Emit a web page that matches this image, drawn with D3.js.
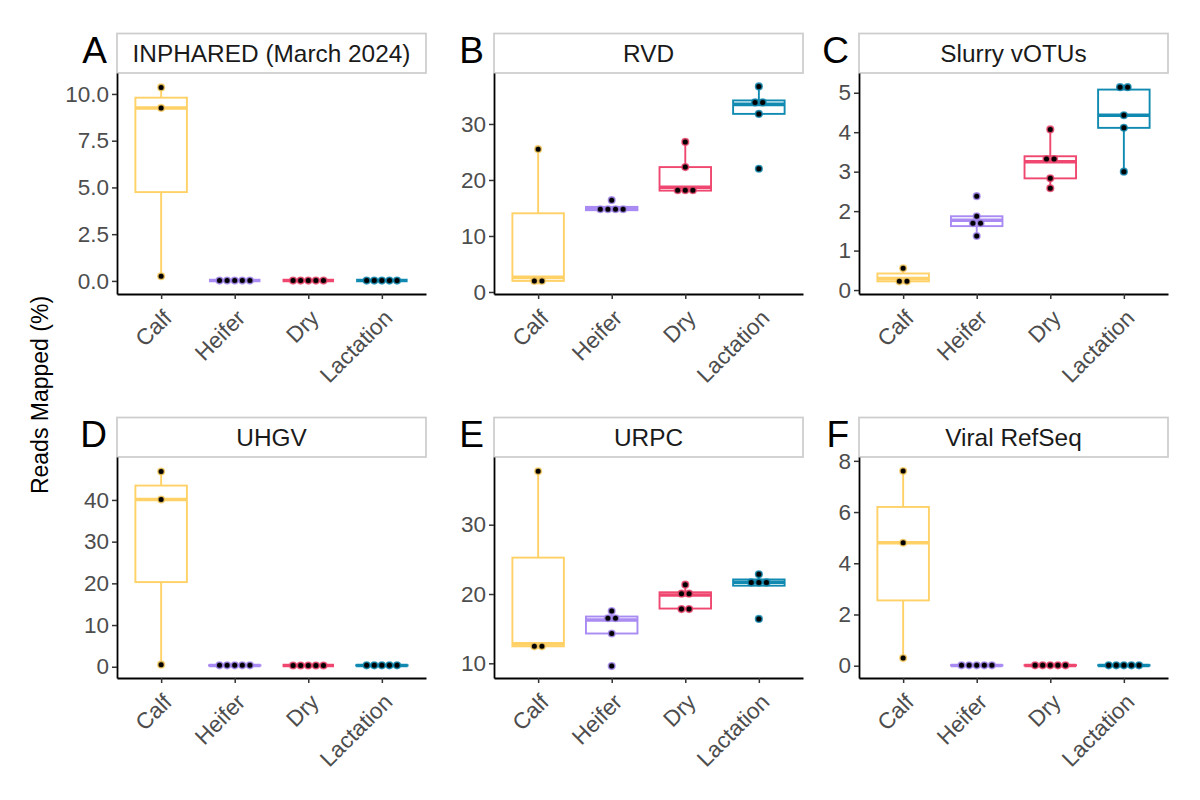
<!DOCTYPE html>
<html>
<head>
<meta charset="utf-8">
<script src="https://cdn.jsdelivr.net/npm/d3@7"></script>
<style>
  body { margin: 0; background: #fff; }
  text { font-family: "Liberation Sans", Arial, sans-serif; }
</style>
</head>
<body>
<svg id="chart" width="1200" height="800"></svg>
<script>
//***************************************************************************
// Data

var groups = ["Calf", "Heifer", "Dry", "Lactation"];
var groupColors = ["#FFD166", "#A98BF3", "#EF476F", "#118AB2"];

var panelLetters = ["A", "B", "C", "D", "E", "F"];
var panelTitles = ["INPHARED (March 2024)", "RVD", "Slurry vOTUs", "UHGV", "URPC", "Viral RefSeq"];

// reads mapped (%) per sample, one list per group (Calf, Heifer, Dry, Lactation)
var inphared = [
	[0.25, 9.25, 10.35],
	[0.01, 0.02, 0.02, 0.03, 0.02],
	[0.02, 0.01, 0.03, 0.02, 0.02],
	[0.02, 0.03, 0.01, 0.02, 0.02]
];
var rvd = [
	[1.35, 2.6, 25.5],
	[14.4, 14.6, 14.9, 15.2, 16.4],
	[17.7, 18.1, 18.7, 22.3, 26.8],
	[22.0, 31.8, 33.5, 34.2, 36.7]
];
var slurry = [
	[0.15, 0.29, 0.55],
	[1.37, 1.62, 1.77, 1.87, 2.38],
	[2.58, 2.83, 3.25, 3.39, 4.07],
	[3.0, 4.11, 4.43, 5.08, 5.2]
];
var uhgv = [
	[0.5, 40.1, 46.8],
	[0.3, 0.35, 0.3, 0.4, 0.3],
	[0.3, 0.25, 0.35, 0.3, 0.3],
	[0.35, 0.3, 0.3, 0.4, 0.3]
];
var urpc = [
	[12.1, 12.8, 37.7],
	[9.6, 14.3, 16.25, 16.75, 17.55],
	[17.75, 17.9, 19.85, 20.25, 21.35],
	[16.4, 21.2, 21.7, 22.1, 22.85]
];
var refseq = [
	[0.3, 4.8, 7.6],
	[0.01, 0.01, 0.02, 0.01, 0.02],
	[0.02, 0.01, 0.01, 0.02, 0.01],
	[0.01, 0.02, 0.01, 0.01, 0.02]
];
var panelData = [inphared, rvd, slurry, uhgv, urpc, refseq];

// y axis tick labels and limits per panel
var yTicks = [
	[0, 2.5, 5, 7.5, 10],
	[0, 10, 20, 30],
	[0, 1, 2, 3, 4, 5],
	[0, 10, 20, 30, 40],
	[10, 20, 30],
	[0, 2, 4, 6, 8]
];
var yLimits = [
	[-0.7, 11.12],
	[-0.36, 39.1],
	[-0.1, 5.5],
	[-2.7, 50.3],
	[7.88, 39.77],
	[-0.48, 8.15]
];

var yTitle = "Reads Mapped (%)";

//***************************************************************************
// Layout

var svg = d3.select("#chart");
var colLeft = [117, 494, 859];
var rowTop = [73, 457];
var plotW = 309;
var plotH = 221;
var stripH = 39.5;
var boxFrac = 0.7;
var dotStep = 7.6;
var rowTol = 7.3;

svg.append("rect").attr("width", 1200).attr("height", 800).attr("fill", "#fff");

svg.append("text")
	.attr("transform", "translate(48,395) rotate(-90)")
	.attr("text-anchor", "middle")
	.attr("font-size", 23)
	.attr("fill", "#000")
	.text(yTitle);

function boxStats(vals) {
	var s = vals.slice().sort(d3.ascending);
	var q1 = d3.quantile(s, 0.25);
	var med = d3.quantile(s, 0.5);
	var q3 = d3.quantile(s, 0.75);
	var iqr = q3 - q1;
	var lo = d3.min(s.filter(function(v) { return v >= q1 - 1.5 * iqr; }));
	var hi = d3.max(s.filter(function(v) { return v <= q3 + 1.5 * iqr; }));
	return { q1: q1, med: med, q3: q3, lo: lo, hi: hi };
}

// centred beeswarm: close values share a row, rows are centred on the group
function swarm(vals, y) {
	var s = vals.slice().sort(d3.ascending);
	var rows = [];
	var cur = null;
	s.forEach(function(v) {
		if (cur && Math.abs(y(cur[0]) - y(v)) <= rowTol) {
			cur.push(v);
		} else {
			cur = [v];
			rows.push(cur);
		}
	});
	var out = [];
	rows.forEach(function(r) {
		var py = d3.mean(r, function(v) { return y(v); });
		r.forEach(function(v, i) {
			out.push({ dx: (i - (r.length - 1) / 2) * dotStep, py: py });
		});
	});
	return out;
}

function drawPanel(p) {
	var col = p % 3, row = Math.floor(p / 3);
	var left = colLeft[col], top = rowTop[row];

	var g = svg.append("g").attr("transform", "translate(" + left + "," + top + ")");

	var x = d3.scalePoint().domain(groups).range([0, plotW]).padding(0.6);
	var y = d3.scaleLinear().domain(yLimits[p]).range([plotH, 0]);
	var bw = x.step() * boxFrac;

	// strip
	g.append("rect")
		.attr("x", 0).attr("y", -stripH)
		.attr("width", plotW).attr("height", stripH)
		.attr("fill", "#fff").attr("stroke", "#cccccc").attr("stroke-width", 1.7);
	g.append("text")
		.attr("x", plotW / 2).attr("y", -stripH / 2 + 8.6)
		.attr("text-anchor", "middle")
		.attr("font-size", 24.4)
		.attr("fill", "#1a1a1a")
		.text(panelTitles[p]);

	// panel letter
	g.append("text")
		.attr("x", -10).attr("y", -10.5)
		.attr("text-anchor", "end")
		.attr("font-size", 37)
		.attr("fill", "#000")
		.text(panelLetters[p]);

	// boxes
	panelData[p].forEach(function(vals, i) {
		var st = boxStats(vals);
		var cx = x(groups[i]);
		var c = groupColors[i];
		var bg = g.append("g");
		bg.append("line")
			.attr("x1", cx).attr("x2", cx)
			.attr("y1", y(st.q3)).attr("y2", y(st.hi))
			.attr("stroke", c).attr("stroke-width", 1.9);
		bg.append("line")
			.attr("x1", cx).attr("x2", cx)
			.attr("y1", y(st.q1)).attr("y2", y(st.lo))
			.attr("stroke", c).attr("stroke-width", 1.9);
		bg.append("rect")
			.attr("x", cx - bw / 2).attr("width", bw)
			.attr("y", y(st.q3)).attr("height", Math.max(0, y(st.q1) - y(st.q3)))
			.attr("fill", "#fff")
			.attr("stroke", c).attr("stroke-width", 1.9);
		bg.append("line")
			.attr("x1", cx - bw / 2).attr("x2", cx + bw / 2)
			.attr("y1", y(st.med)).attr("y2", y(st.med))
			.attr("stroke", c).attr("stroke-width", 3.6);
	});

	// points
	panelData[p].forEach(function(vals, i) {
		var cx = x(groups[i]);
		g.append("g").selectAll("circle")
			.data(swarm(vals, y))
			.join("circle")
			.attr("cx", function(d) { return cx + d.dx; })
			.attr("cy", function(d) { return d.py; })
			.attr("r", 3.3)
			.attr("fill", "#000")
			.attr("stroke", groupColors[i])
			.attr("stroke-opacity", 0.8)
			.attr("stroke-width", 1.6);
	});

	// axes
	var fmt = yTicks[p].some(function(t) { return t % 1 !== 0; }) ? d3.format(".1f") : d3.format("d");
	var ya = g.append("g")
		.call(d3.axisLeft(y).tickValues(yTicks[p]).tickFormat(fmt).tickSize(5).tickSizeOuter(0).tickPadding(3));
	var xa = g.append("g")
		.attr("transform", "translate(0," + plotH + ")")
		.call(d3.axisBottom(x).tickSize(5).tickSizeOuter(0));

	[ya, xa].forEach(function(a) {
		a.select(".domain").attr("stroke", "#000").attr("stroke-width", 1.8);
		a.selectAll(".tick line").attr("stroke", "#333").attr("stroke-width", 1.5);
		a.selectAll(".tick text")
			.attr("fill", "#4d4d4d")
			.attr("font-size", 22.5)
			.attr("font-family", "Liberation Sans, Arial, sans-serif");
	});

	xa.selectAll(".tick text")
		.attr("x", 0).attr("y", 0)
		.attr("dy", "0.72em")
		.attr("text-anchor", "end")
		.attr("transform", "translate(0,14) rotate(-45)");
}

for (var p = 0; p < 6; ++p) {
	drawPanel(p);
}
</script>
</body>
</html>
